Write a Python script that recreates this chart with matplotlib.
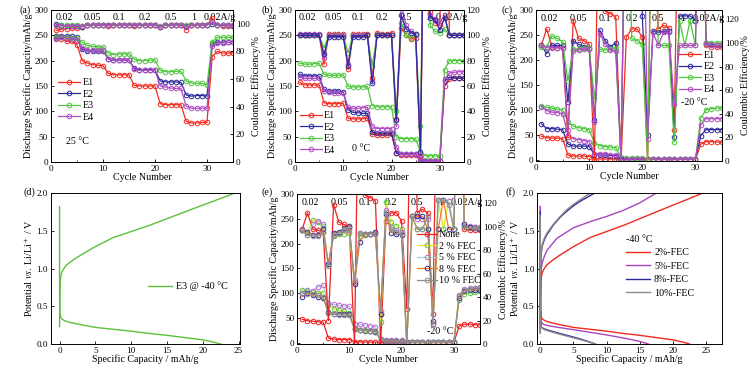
import numpy as np
import matplotlib
matplotlib.use("Agg")
import matplotlib.pyplot as plt

plt.rcParams['font.family'] = ['Liberation Serif', 'DejaVu Serif']
plt.rcParams['mathtext.fontset'] = 'stix'
plt.rcParams['font.size'] = 7
plt.rcParams['axes.linewidth'] = 0.7

# ---------------------------------------------------------------- data
cycles = np.arange(1, 36)
rates = ["0.02", "0.05", "0.1", "0.2", "0.5", "1", "0.02A/g"]
rate_x = [2.5, 8, 13, 18, 23, 27.5, 32.5]

# (a) 25 C
a_cap = {
    "E1": [244, 243, 238, 238, 231, 200, 195, 192, 191, 190, 175, 172, 172, 172, 172,
           151, 150, 150, 150, 150, 115, 113, 113, 113, 113, 80, 77, 77, 78, 78,
           208, 218, 215, 215, 215],
    "E2": [249, 249, 249, 248, 246, 222, 219, 219, 219, 219, 204, 201, 201, 201, 201,
           185, 182, 182, 182, 182, 160, 158, 158, 158, 157, 132, 130, 131, 131, 130,
           232, 236, 236, 236, 236],
    "E3": [246, 247, 246, 245, 244, 236, 230, 228, 227, 227, 215, 212, 213, 213, 213,
           203, 200, 200, 201, 201, 181, 178, 178, 179, 179, 160, 156, 155, 155, 152,
           237, 246, 246, 246, 246],
    "E4": [242, 246, 244, 242, 241, 225, 221, 220, 220, 220, 203, 202, 201, 201, 201,
           183, 181, 181, 181, 181, 150, 148, 146, 145, 145, 110, 106, 106, 106, 106,
           228, 235, 235, 236, 236],
}
a_ce = {
    "E1": [95.3, 96, 96.5, 97, 97, 98, 99, 99, 99, 99, 98.5, 99, 99, 99, 99,
           98.5, 99, 99, 99, 99, 97.5, 99, 99, 99, 99, 95.7, 99, 99, 99, 99,
           104, 99, 98.5, 98.5, 98.5],
    "E2": [99.5, 99, 98.5, 98.5, 98.5, 98, 99.3, 99.3, 99.3, 99.3, 98.8, 99.4, 99.4, 99.4, 99.4,
           98.8, 99.4, 99.4, 99.4, 99.4, 98, 99.4, 99.4, 99.4, 99.4, 98.5, 99.4, 99.4, 99.4, 99.4,
           100, 99, 99, 98.8, 98.5],
    "E3": [99, 98.8, 98.8, 98.8, 98.8, 98.5, 99.2, 99.2, 99.2, 99.2, 98.8, 99.2, 99.2, 99.2, 99.2,
           98.8, 99.2, 99.2, 99.2, 99.2, 98.2, 99.2, 99.2, 99.2, 99.2, 98.8, 99.2, 99.2, 99.2, 99.2,
           101, 99, 99, 99, 98.8],
    "E4": [99, 98.5, 98.5, 98.5, 98.5, 98.2, 99.2, 99.2, 99.2, 99.2, 98.8, 99.2, 99.2, 99.2, 99.2,
           98.8, 99.2, 99.2, 99.2, 99.2, 97.8, 99.2, 99.2, 99.2, 99.2, 98, 99.2, 99.2, 99.2, 99.2,
           101, 99, 99, 98.8, 98.8],
}

# (b) 0 C
b_cap = {
    "E1": [157, 152, 152, 152, 152, 117, 115, 115, 115, 116, 86, 85, 85, 85, 87,
           56, 54, 54, 54, 55, 17, 14, 14, 14, 14, 10, 1, 1, 1, 1,
           150, 163, 165, 165, 165],
    "E2": [173, 170, 170, 170, 169, 143, 140, 140, 140, 138, 103, 98, 97, 96, 96,
           59, 57, 57, 57, 57, 18, 16, 16, 16, 16, 2, 2, 2, 2, 2,
           160, 167, 166, 166, 165],
    "E3": [195, 193, 193, 194, 195, 173, 171, 171, 171, 172, 149, 148, 148, 148, 149,
           111, 109, 109, 109, 109, 49, 46, 46, 46, 45, 20, 12, 12, 12, 12,
           182, 200, 200, 200, 200],
    "E4": [167, 165, 165, 165, 165, 140, 138, 137, 137, 137, 108, 106, 106, 107, 108,
           70, 66, 66, 66, 66, 30, 15, 15, 15, 15, 6, 1, 1, 1, 1,
           163, 176, 177, 178, 178],
}
b_ce = {
    "E1": [100, 100, 100, 100, 100, 77, 101, 101, 101, 101, 73, 101, 101, 101, 101,
           66, 102, 101, 101, 102, 34, 106, 100, 97, 98, 5, 300, 118, 110, 108,
           300, 100, 100, 100, 100],
    "E3": [100, 100, 100, 100, 100, 90, 100, 100, 100, 100, 86, 100, 100, 100, 100,
           76, 100, 100, 100, 100, 40, 110, 100, 98, 100, 28, 300, 108, 103, 102,
           105, 100, 100, 100, 100],
    "E4": [101, 101, 101, 101, 101, 82, 100, 100, 100, 100, 77, 100, 100, 100, 100,
           64, 100, 100, 100, 100, 28, 125, 108, 103, 101, 4, 300, 116, 113, 110,
           116, 100, 100, 100, 100],
    "E2": [100, 100, 100, 100, 100, 85, 99, 99, 99, 99, 76, 99, 99, 99, 100,
           62, 100, 100, 100, 100, 33, 116, 105, 102, 101, 8, 300, 114, 112, 104,
           114, 100, 100, 100, 100],
}

# (c) -20 C
c_cap = {
    "E1": [47, 44, 43, 43, 42, 9, 7, 7, 7, 6, 2, 1, 1, 1, 1,
           0, 0, 0, 0, 0, 0, 0, 0, 0, 0, 0, 0, 0, 0, 0,
           31, 36, 36, 35, 35],
    "E2": [72, 62, 62, 61, 60, 31, 27, 27, 27, 26, 10, 9, 9, 8, 8,
           2, 1, 1, 1, 1, 1, 1, 1, 1, 1, 1, 1, 1, 1, 1,
           48, 60, 60, 60, 60],
    "E3": [107, 105, 103, 101, 100, 75, 67, 64, 62, 60, 33, 28, 26, 25, 24,
           5, 4, 4, 4, 4, 2, 1, 1, 1, 1, 1, 1, 1, 1, 1,
           83, 100, 102, 103, 104],
    "E4": [106, 98, 95, 94, 92, 50, 42, 40, 38, 36, 12, 11, 11, 10, 10,
           2, 1, 1, 1, 1, 1, 1, 1, 1, 1, 1, 1, 1, 1, 1,
           70, 82, 82, 82, 82],
}
c_ce = {
    "E1": [98, 112, 97, 96, 96, 20, 119, 104, 102, 99, 0, 300, 127, 125, 122,
           0, 105, 112, 112, 105, 0, 300, 112, 115, 113, 26, 300, 300, 300, 300,
           300, 98, 97, 97, 97],
    "E2": [98, 91, 98, 98, 98, 50, 102, 99, 97, 96, 35, 111, 102, 97, 100,
           2, 300, 300, 300, 123, 22, 110, 109, 110, 110, 20, 123, 123, 123, 119,
           300, 100, 99, 98, 98],
    "E3": [97, 97, 106, 104, 101, 68, 95, 95, 96, 96, 53, 95, 94, 95, 96,
           0, 300, 104, 102, 99, 0, 300, 98, 98, 98, 16, 119, 98, 119, 98,
           300, 100, 100, 100, 100],
    "E4": [98, 96, 96, 96, 96, 26, 93, 94, 95, 95, 33, 108, 99, 94, 93,
           0, 300, 300, 300, 300, 19, 109, 98, 109, 109, 48, 98, 98, 98, 98,
           300, 99, 98, 98, 98],
}

# (e) -20 C, FEC content
e_cap = {
    "None": [47, 44, 43, 42, 41, 9, 7, 6, 6, 6, 2, 1.5, 1, 1, 1,
             0, 0, 0, 0, 0, 0, 0, 0, 0, 0, 0, 0, 0, 0, 0,
             33, 37, 37, 36, 36],
    "2 % FEC": [107, 104, 102, 100, 100, 75, 68, 65, 63, 60, 30, 26, 25, 24, 24,
                5, 4, 4, 4, 4, 1, 1, 1, 1, 1, 1, 1, 1, 1, 1,
                85, 98, 100, 102, 104],
    "5 % FEC": [100, 107, 105, 112, 116, 80, 77, 75, 74, 73, 38, 37, 35, 33, 32,
                8, 6, 6, 5, 5, 2, 2, 2, 2, 2, 2, 2, 2, 2, 2,
                95, 108, 110, 111, 112],
    "8 % FEC": [92, 100, 95, 92, 90, 62, 58, 58, 58, 58, 28, 25, 24, 23, 22,
                5, 4, 4, 4, 4, 1, 1, 1, 1, 1, 1, 1, 1, 1, 1,
                90, 105, 107, 107, 107],
    "10 % FEC": [100, 98, 98, 95, 92, 60, 57, 56, 56, 55, 27, 25, 24, 24, 23,
                 5, 4, 4, 3, 3, 1, 1, 1, 1, 1, 1, 1, 1, 1, 1,
                 93, 106, 108, 110, 110],
}
e_ce = {
    "None": [98, 112, 98, 97, 96, 20, 119, 104, 102, 100, 0, 300, 127, 125, 122,
             0, 105, 112, 112, 105, 30, 300, 112, 115, 112, 26, 300, 300, 300, 300,
             300, 98, 97, 97, 97],
    "2 % FEC": [97, 95, 106, 104, 101, 68, 92, 94, 94, 95, 53, 92, 93, 94, 95,
                19, 121, 104, 101, 98, 0, 109, 98, 98, 98, 17, 123, 98, 122, 98,
                300, 100, 100, 100, 100],
    "5 % FEC": [97, 93, 102, 105, 102, 68, 93, 95, 97, 97, 53, 95, 94, 94, 95,
                26, 114, 100, 97, 96, 0, 109, 107, 107, 107, 17, 123, 123, 122, 98,
                300, 102, 101, 100, 100],
    "8 % FEC": [97, 96, 93, 93, 98, 68, 95, 96, 99, 101, 51, 87, 94, 94, 96,
                26, 111, 95, 94, 93, 0, 109, 109, 109, 98, 20, 98, 123, 98, 98,
                300, 102, 100, 99, 98],
    "10 % FEC": [97, 93, 92, 92, 96, 67, 93, 95, 98, 99, 55, 95, 94, 94, 94,
                 28, 113, 98, 96, 94, 0, 109, 98, 98, 109, 16, 123, 123, 119, 98,
                 300, 100, 99, 99, 99],
}

# (d) / (f) voltage profiles at -40 C
dis_2_q = [0, 0, 0.05, 0.1, 0.2, 0.4, 0.8, 1.5, 3, 5, 7.5, 10, 12.5, 15, 17.5, 20, 21.5, 22.5]
dis_2_v = [1.82, 0.6, 0.45, 0.38, 0.345, 0.325, 0.305, 0.285, 0.255, 0.22, 0.195, 0.17, 0.14, 0.115, 0.085, 0.055, 0.025, 0.0]
chg_2_q = [0, 0.05, 0.1, 0.15, 0.3, 0.6, 1, 2, 3, 5, 7.5, 10, 12.5, 15, 17.5, 20, 22, 24.5]
chg_2_v = [0.23, 0.6, 0.82, 0.88, 0.95, 1.0, 1.05, 1.12, 1.18, 1.29, 1.41, 1.49, 1.57, 1.66, 1.75, 1.84, 1.91, 2.0]

dis_5_q = [0, 0, 0.05, 0.1, 0.3, 0.8, 2, 5, 7.5, 10, 12.5, 15, 16.3]
dis_5_v = [1.82, 0.5, 0.35, 0.3, 0.27, 0.25, 0.23, 0.19, 0.155, 0.12, 0.08, 0.035, 0.0]
chg_5_q = [0, 0.05, 0.1, 0.3, 0.6, 1, 2.5, 5, 7.5, 10, 12.5, 15, 17.5]
chg_5_v = [0.15, 0.8, 0.98, 1.08, 1.16, 1.24, 1.40, 1.54, 1.62, 1.69, 1.77, 1.87, 2.0]

dis_8_q = [0, 0, 0.05, 0.1, 0.2, 0.6, 1.5, 2.5, 4, 5.5, 7, 8.3]
dis_8_v = [1.75, 0.45, 0.3, 0.25, 0.22, 0.2, 0.175, 0.15, 0.115, 0.08, 0.04, 0.0]
chg_8_q = [0, 0.05, 0.1, 0.3, 0.6, 1, 2, 3, 4, 5, 6, 7, 8.2]
chg_8_v = [0.15, 0.9, 1.18, 1.3, 1.38, 1.45, 1.58, 1.68, 1.76, 1.83, 1.89, 1.94, 2.0]

dis_10_q = [0, 0, 0.05, 0.1, 0.2, 0.6, 1.5, 2.5, 4, 5.5, 7, 8.3]
dis_10_v = [1.7, 0.4, 0.28, 0.24, 0.215, 0.19, 0.165, 0.14, 0.105, 0.07, 0.035, 0.0]
chg_10_q = [0, 0.05, 0.1, 0.3, 0.6, 1, 2, 3, 4, 5, 6, 7, 7.6]
chg_10_v = [0.15, 0.9, 1.2, 1.32, 1.4, 1.47, 1.59, 1.69, 1.78, 1.85, 1.91, 1.97, 2.0]

# ---------------------------------------------------------------- styles
RED, NAVY, GREEN, PURPLE = '#f42a1e', '#2d2a9c', '#4cc73a', '#b04cc4'
e_styles = {
    "None": ('#ee2020', '#ee2020'),
    "2 % FEC": ('#ece31c', '#52c23c'),
    "5 % FEC": ('#9ad9d6', '#c25ed2'),
    "8 % FEC": ('#f37a22', '#2d2a9c'),
    "10 % FEC": ('#8e8e8e', '#8e8e8e'),
}
E_COL = {"E1": (RED, RED), "E2": (NAVY, NAVY), "E3": (GREEN, GREEN), "E4": (PURPLE, PURPLE)}

FS = 7.2
fig = plt.figure(figsize=(7.54, 3.74), dpi=100)


def style_ax(ax):
    ax.tick_params(direction='in', length=2.5, width=0.6, labelsize=6.6, pad=2)
    ax.tick_params(which='minor', direction='in', length=1.5, width=0.5)


def cycle_panel(rect, caps, ces, colors, ce_max, temp, temp_xy, leg_xy, rate_y,
                hlen=2.2):
    ax = fig.add_axes(rect)
    ax2 = ax.twinx()
    handles = []
    for name, vals in caps.items():
        lc, mc = colors[name]
        h, = ax.plot(cycles, vals, '-o', color=lc, mec=mc, mfc='none', ms=3.3,
                     mew=0.7, lw=0.9, label=name)
        handles.append(h)
    for name, vals in ces.items():
        lc, mc = colors[name]
        ax2.plot(cycles, vals, '-o', color=lc, mec=mc, mfc='none', ms=3.3,
                 mew=0.7, lw=0.9)
    ax.set_xlim(0, 35)
    ax.set_ylim(-3 if ce_max > 125 else 0, 300)
    ax.set_xticks([0, 10, 20, 30])
    ax.set_xticks([5, 15, 25, 35], minor=True)
    ax.set_yticks(range(0, 301, 50))
    ax2.set_ylim(0, ce_max)
    ax2.set_yticks(range(0, int(ce_max) + 1, 20))
    style_ax(ax)
    style_ax(ax2)
    ax.set_xlabel('Cycle Number', fontsize=FS, labelpad=0)
    ax.set_ylabel('Discharge Specific Capacity/mAh/g', fontsize=FS, labelpad=1)
    ax2.set_ylabel('Coulombic Efficiency/%', fontsize=FS, labelpad=1)
    for lab, x in zip(rates, rate_x):
        ax.text(x, rate_y, lab, ha='center', va='center', fontsize=FS)
    ax.text(temp_xy[0], temp_xy[1], temp, transform=ax.transAxes, fontsize=FS)
    ax2.legend(handles=handles, loc='upper left', bbox_to_anchor=leg_xy,
               frameon=False, fontsize=FS, handlelength=hlen, handletextpad=0.2,
               labelspacing=0.25, borderaxespad=0, borderpad=0)
    return ax


def volt_panel(rect, curves, leg_xy, title=None):
    ax = fig.add_axes(rect)
    for q_d, v_d, q_c, v_c, col, lab in curves:
        ax.plot(q_d, v_d, color=col, lw=1.0)
        ax.plot(q_c, v_c, color=col, lw=1.0, label=lab)
    ax.set_ylim(0, 2.0)
    ax.set_yticks([0, 0.5, 1.0, 1.5, 2.0])
    ax.set_xticks([0, 5, 10, 15, 20, 25])
    style_ax(ax)
    ax.set_xlabel('Specific Capacity / mAh/g', fontsize=FS, labelpad=0)
    ax.set_ylabel(r'Potential $vs.$ Li/Li$^+$ / V', fontsize=FS, labelpad=1)
    leg = ax.legend(loc='upper left', bbox_to_anchor=leg_xy, frameon=False,
                    fontsize=FS, handlelength=2.4, handletextpad=0.4,
                    labelspacing=0.45, borderaxespad=0, title=title,
                    title_fontsize=FS)
    if title:
        leg._legend_box.align = 'left'
    return ax


# (a)
cycle_panel([0.0676, 0.567, 0.2414, 0.4064], a_cap, a_ce, E_COL, 110,
            '25 °C', (0.08, 0.12), (0.04, 0.55), 285)
# (b)
cycle_panel([0.3912, 0.567, 0.2241, 0.4064], b_cap, b_ce, E_COL, 120,
            '0 °C', (0.34, 0.07), (0.03, 0.335), 285)
# (c)
cycle_panel([0.7109, 0.5695, 0.2467, 0.4037], c_cap, c_ce, E_COL, 128,
            '-20 °C', (0.78, 0.37), (0.77, 0.73), 282)
# (e)
cycle_panel([0.3939, 0.0802, 0.2427, 0.401], e_cap, e_ce, e_styles, 128,
            '-20 °C', (0.71, 0.07), (0.655, 0.76), 282, hlen=2.0)
# (d)
axd = volt_panel([0.0676, 0.0802, 0.2507, 0.4037],
                 [(dis_2_q, dis_2_v, chg_2_q, chg_2_v, '#5cbf3c', 'E3 @ -40 °C')],
                 (0.49, 0.44))
axd.set_xlim(-1.2, 25.2)
# (f)
axf = volt_panel([0.7122, 0.0802, 0.2454, 0.4037],
                 [(dis_2_q, dis_2_v, chg_2_q, chg_2_v, '#f02a1e', '2%-FEC'),
                  (dis_5_q, dis_5_v, chg_5_q, chg_5_v, '#a844c0', '5%-FEC'),
                  (dis_8_q, dis_8_v, chg_8_q, chg_8_v, '#2d2a9c', '8%-FEC'),
                  (dis_10_q, dis_10_v, chg_10_q, chg_10_v, '#8a8a8a', '10%-FEC')],
                 (0.46, 0.75), title='-40 °C')
axf.set_xlim(-0.5, 27.4)

for lab, x, y in [('(a)', 19, 10), ('(b)', 262, 10), ('(c)', 502, 10),
                  ('(d)', 24, 192), ('(e)', 262, 192), ('(f)', 505, 192)]:
    fig.text(x / 754, 1 - y / 374, lab, fontsize=FS, va='center')

fig.savefig('out.png', dpi=100)
